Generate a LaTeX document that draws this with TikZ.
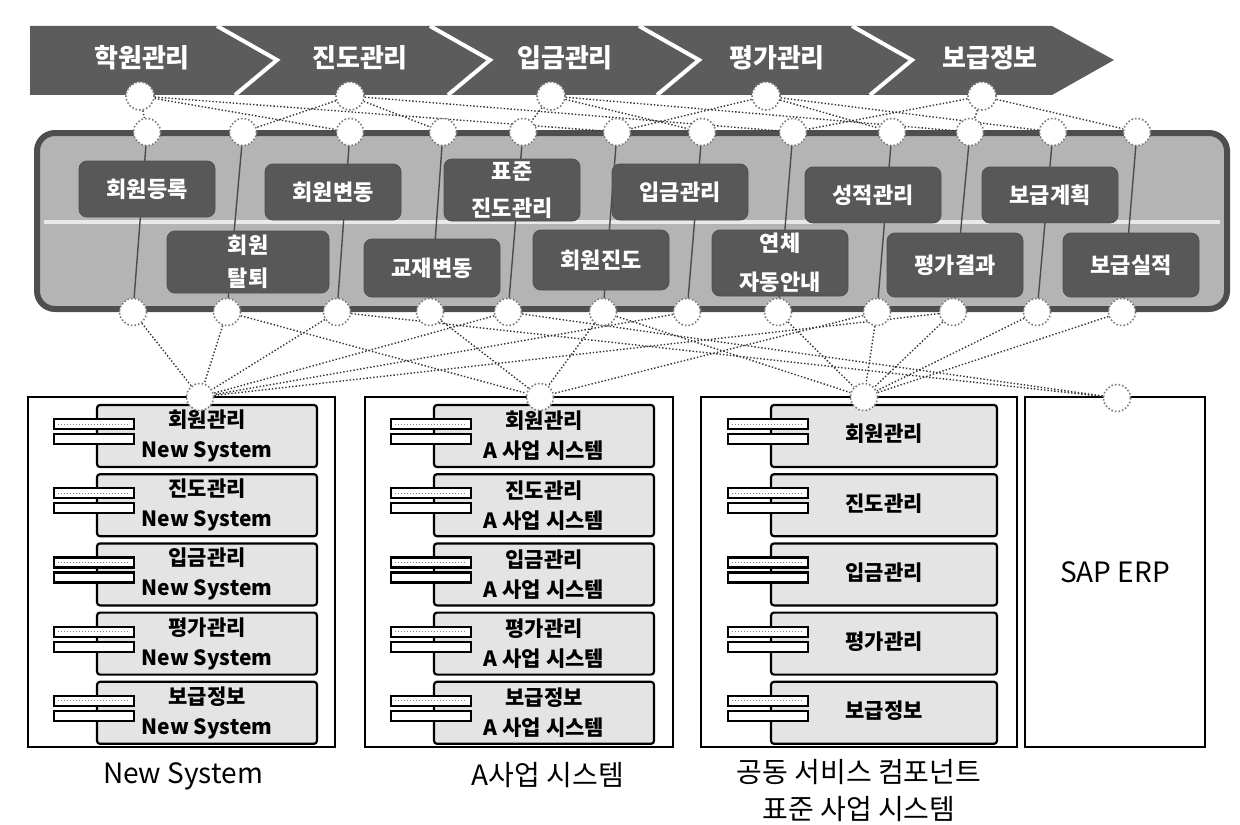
\documentclass[tikz,border=0pt]{standalone}
\usepackage{fontspec}
\newfontfamily\kr{Noto Sans CJK KR}
\usetikzlibrary{positioning, backgrounds}
\definecolor{BandDark}{HTML}{5C5C5C}
\definecolor{PanelGray}{HTML}{B4B4B4}
\definecolor{PanelEdge}{HTML}{4E4E4E}
\definecolor{LabelDark}{HTML}{585858}
\definecolor{CompFill}{HTML}{E4E4E4}
\definecolor{DotGray}{HTML}{7A7A7A}
\pgfdeclarelayer{back}
\pgfdeclarelayer{wires}
\pgfsetlayers{back,wires,main}

\begin{document}
\begin{tikzpicture}[x=0.5pt, y=-0.5pt,
    node distance=2.5pt,
    port/.style={circle, draw=DotGray, densely dotted, thick, fill=white, minimum size=13.5pt, inner sep=0pt},
    steplbl/.style={text=white, font=\kr\bfseries\fontsize{13}{14}\selectfont},
    tasklbl/.style={rectangle, rounded corners=4pt, fill=LabelDark, draw=PanelEdge, text=white, font=\kr\bfseries\fontsize{11}{12.5}\selectfont, minimum width=68pt, minimum height=28pt, align=center, inner sep=1pt},
    sysbox/.style={rectangle, draw=black, line width=1.1pt, fill=white, minimum height=175pt, inner sep=0pt, font=\kr\fontsize{14}{16}\selectfont},
    comp/.style={rectangle, draw=black, line width=1.1pt, fill=CompFill, rounded corners=1.5pt, minimum width=110pt, minimum height=31pt, align=center, font=\kr\bfseries\fontsize{10.5}{15}\selectfont, inner sep=0pt},
    tabbar/.style={draw=black, line width=1.1pt, fill=white},
    syscap/.style={font=\kr\fontsize{14}{18.5}\selectfont, align=center},
    cellline/.style={line width=0.7pt, black!70},
    link/.style={densely dotted, line width=0.7pt, black!80}
  ]
  \useasboundingbox (0,0) rectangle (1240,824);

  % ports
  \foreach \x [count=\i] in {140,350,551,766,982}
    \node[port, minimum size=14pt] (b\i) at (\x,96) {};
  \foreach \x [count=\i] in {147,243,350,443,523,617,702,793,892,970,1053,1137}
    \node[port] (t\i) at (\x,132) {};
  \foreach \x [count=\i] in {133,227,337,430,508,603,687,778,877,953,1037,1122}
    \node[port] (s\i) at (\x,312) {};
  \node[port] (n1) at (200,397) {};
  \node[port] (n2) at (540,397) {};
  \node[port] (n3) at (864,397) {};
  \node[port] (n4) at (1117,398) {};

  \begin{pgfonlayer}{back}
    % process band
    \fill[BandDark] (30,26) -- (1052,26) -- (1114,60) -- (1052,95) -- (30,95) -- cycle;
    \foreach \tip in {277,490,699,912}
      \draw[white, line width=2pt] (\tip-60,26) -- (\tip,60) -- (\tip-42,95);

    % service panel
    \draw[PanelEdge, fill=PanelGray, line width=3pt, rounded corners=9pt] (37,133) rectangle (1227,309);
    \draw[white!70!PanelGray, line width=2pt] (44,222) -- (1220,222);
    \foreach \i in {1,...,12}
      \draw[cellline] (t\i) -- (s\i);

    \node[tasklbl] (reg) at (147,189) {회원등록};
    \node[tasklbl] (chg) at (333,192) {회원변동};
    \node[tasklbl, minimum height=31pt] (std) at (512,190) {표준\\[6pt]진도관리};
    \node[tasklbl] (pay) at (680,192) {입금관리};
    \node[tasklbl] (grade) at (873,195) {성적관리};
    \node[tasklbl] (plan) at (1050,195) {보급계획};
    \node[tasklbl, minimum width=81pt, minimum height=31pt] (quit) at (248,262) {회원\\[4pt]탈퇴};
    \node[tasklbl, minimum height=29pt] (book) at (432,268) {교재변동};
    \node[tasklbl, minimum height=30pt] (track) at (601,260) {회원진도};
    \node[tasklbl, minimum height=33pt] (late) at (780,263) {연체\\[7pt]자동안내};
    \node[tasklbl, minimum height=32pt] (eval) at (955,265) {평가결과};
    \node[tasklbl, minimum height=32pt] (supply) at (1131,265) {보급실적};

    % systems
    \node[sysbox, minimum width=153.5pt] (sysN) at (181.5,572) {};
    \node[sysbox, minimum width=154pt] (sysA) at (519,572) {};
    \node[sysbox, minimum width=158pt] (sysS) at (859,572) {};
    \node[sysbox, minimum width=90pt] (sap) at (1115,572) {SAP ERP};

    \node[comp] (cN1) at (207,436) {회원관리\\New System};
    \node[comp, below=of cN1] (cN2) {진도관리\\New System};
    \node[comp, below=of cN2] (cN3) {입금관리\\New System};
    \node[comp, below=of cN3] (cN4) {평가관리\\New System};
    \node[comp, below=of cN4] (cN5) {보급정보\\New System};

    \node[comp] (cA1) at (544,436) {회원관리\\A 사업 시스템};
    \node[comp, below=of cA1] (cA2) {진도관리\\A 사업 시스템};
    \node[comp, below=of cA2] (cA3) {입금관리\\A 사업 시스템};
    \node[comp, below=of cA3] (cA4) {평가관리\\A 사업 시스템};
    \node[comp, below=of cA4] (cA5) {보급정보\\A 사업 시스템};

    \node[comp, minimum width=113pt] (cS1) at (884,436) {\raisebox{3pt}{회원관리}};
    \node[comp, minimum width=113pt, below=of cS1] (cS2) {\raisebox{3pt}{진도관리}};
    \node[comp, minimum width=113pt, below=of cS2] (cS3) {\raisebox{3pt}{입금관리}};
    \node[comp, minimum width=113pt, below=of cS3] (cS4) {\raisebox{3pt}{평가관리}};
    \node[comp, minimum width=113pt, below=of cS4] (cS5) {\raisebox{3pt}{보급정보}};

    % component tabs
    \foreach \col in {N,A,S}
      \foreach \r in {1,...,5} {
        \draw[tabbar] ([shift={(-42,-17)}]c\col\r.west) rectangle ([shift={(38,-7)}]c\col\r.west);
        \draw[tabbar] ([shift={(-42,-2)}]c\col\r.west) rectangle ([shift={(38,8)}]c\col\r.west);
        \draw[densely dotted, gray, line width=0.5pt] ([shift={(-38,-12)}]c\col\r.west) -- ([shift={(34,-12)}]c\col\r.west);
      }
  \end{pgfonlayer}

  \begin{pgfonlayer}{wires}
    \foreach \src/\dst in {1/1,1/3,1/6,2/2,2/4,2/8,3/5,3/7,3/10,4/6,4/9,4/11,5/8,5/10,5/12}
      \draw[link] (b\src) -- (t\dst);
    \foreach \src/\dst in {1/1,2/1,3/1,5/1,7/1,10/1,2/2,4/2,6/2,9/2,6/3,8/3,9/3,10/3,11/3,12/3,3/4,5/4}
      \draw[link] (s\src) -- (n\dst);
  \end{pgfonlayer}

  % process steps
  \node[steplbl] (p1) at (142,58) {학원관리};
  \node[steplbl] (p2) at (360,58) {진도관리};
  \node[steplbl] (p3) at (565,58) {입금관리};
  \node[steplbl] (p4) at (777,58) {평가관리};
  \node[steplbl] (p5) at (990,58) {보급정보};

  % captions
  \node[syscap] (capN) at (183,776) {New System};
  \node[syscap] (capA) at (548,775) {A사업 시스템};
  \node[syscap] (capS) at (859,791) {공동 서비스 컴포넌트\\표준 사업 시스템};
\end{tikzpicture}
\end{document}
